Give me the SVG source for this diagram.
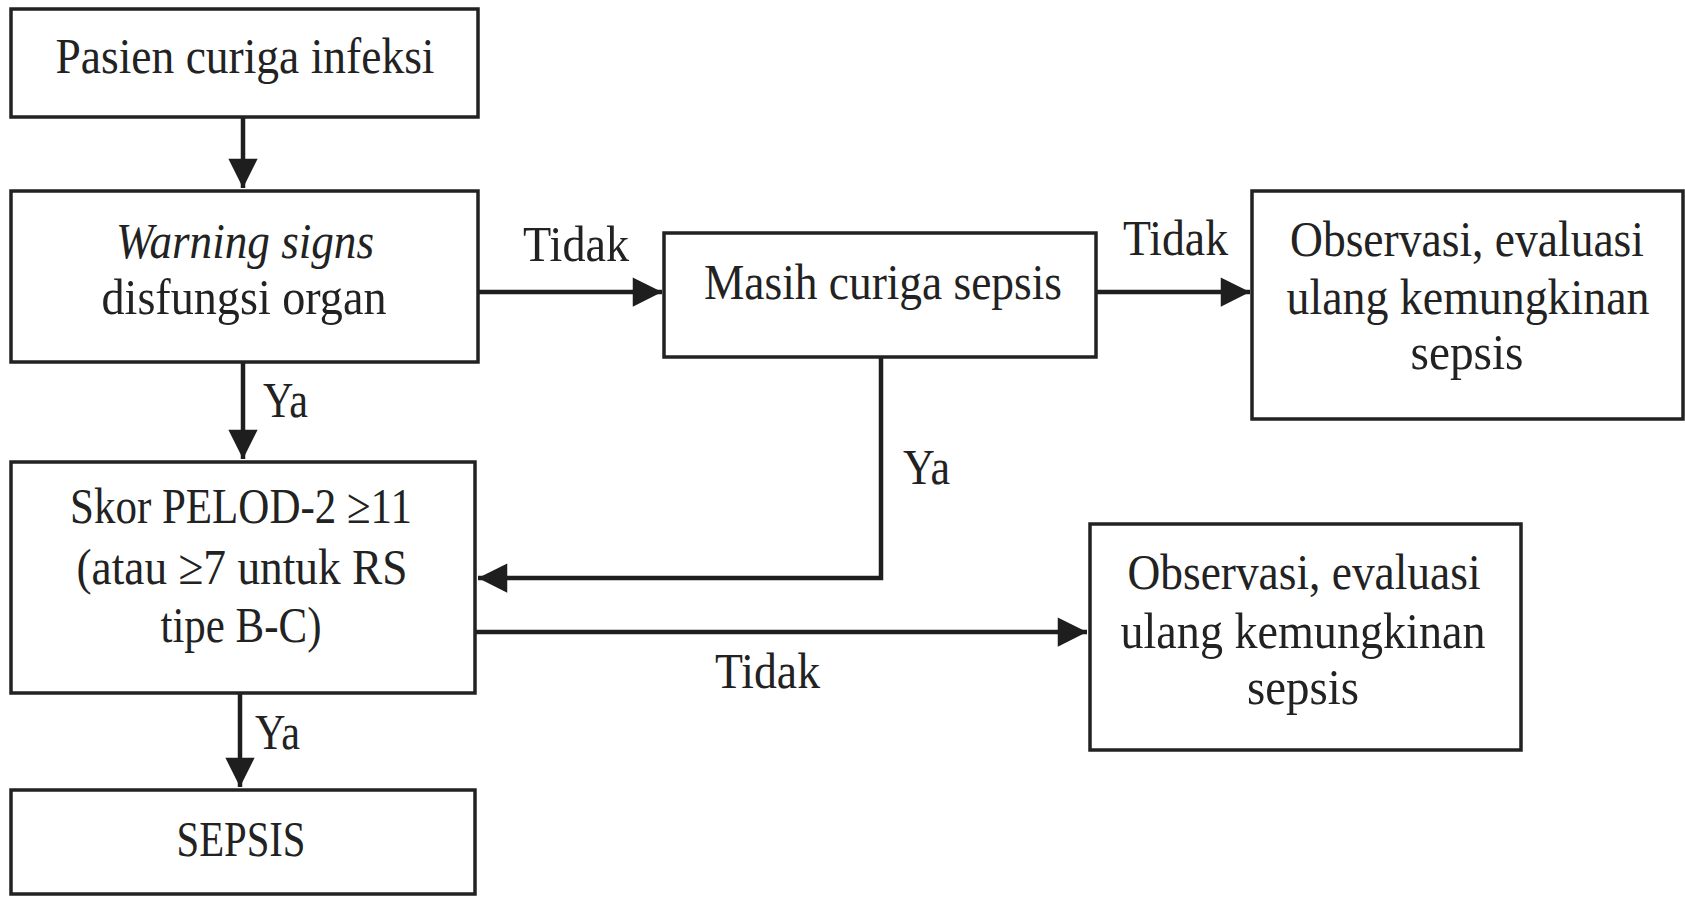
<svg xmlns="http://www.w3.org/2000/svg" width="1685" height="897" viewBox="0 0 1685 897">
<defs>
<marker id="arr" viewBox="0 0 10 10" refX="10" refY="5" markerWidth="7.5" markerHeight="6.5" markerUnits="strokeWidth" orient="auto">
<path d="M0,0 L10,5 L0,10 z" fill="#1e1e1e"/>
</marker>
<style>
.box{fill:#fff;stroke:#222;stroke-width:3.5}
.t{font-family:"Liberation Serif","Times New Roman",serif;font-size:50px;fill:#222;text-anchor:start}
.m{text-anchor:middle}
.i{font-style:italic}
.c{fill:none;stroke:#1e1e1e;stroke-width:4.5}
</style>
</defs>
<rect width="1685" height="897" fill="#fff"/>
<g id="connectors">
<path class="c" d="M243,117 V188" marker-end="url(#arr)"/>
<path class="c" d="M478,292 H662" marker-end="url(#arr)"/>
<path class="c" d="M1096,292 H1250" marker-end="url(#arr)"/>
<path class="c" d="M243,362 V459" marker-end="url(#arr)"/>
<path class="c" d="M881,357 V578 H478" marker-end="url(#arr)"/>
<path class="c" d="M475,632 H1087" marker-end="url(#arr)"/>
<path class="c" d="M240,693 V787" marker-end="url(#arr)"/>
<text class="t" x="523" y="261" textLength="106" lengthAdjust="spacingAndGlyphs">Tidak</text>
<text class="t" x="1123" y="255" textLength="105" lengthAdjust="spacingAndGlyphs">Tidak</text>
<text class="t" x="263" y="417" textLength="45" lengthAdjust="spacingAndGlyphs">Ya</text>
<text class="t" x="903" y="484" textLength="47" lengthAdjust="spacingAndGlyphs">Ya</text>
<text class="t" x="715" y="688" textLength="105" lengthAdjust="spacingAndGlyphs">Tidak</text>
<text class="t" x="255" y="749" textLength="45" lengthAdjust="spacingAndGlyphs">Ya</text>
</g>
<g id="n1">
<rect class="box" x="11" y="9" width="467" height="108"/>
<text class="t m" x="245" y="73" textLength="379" lengthAdjust="spacingAndGlyphs">Pasien curiga infeksi</text>
</g>
<g id="n2">
<rect class="box" x="11" y="191" width="467" height="171"/>
<text class="t i m" x="245" y="258" textLength="258" lengthAdjust="spacingAndGlyphs">Warning signs</text>
<text class="t m" x="244" y="314" textLength="285" lengthAdjust="spacingAndGlyphs">disfungsi organ</text>
</g>
<g id="n3">
<rect class="box" x="664" y="233" width="432" height="124"/>
<text class="t m" x="883" y="299" textLength="358" lengthAdjust="spacingAndGlyphs">Masih curiga sepsis</text>
</g>
<g id="n4">
<rect class="box" x="1252" y="191" width="431" height="228"/>
<text class="t m" x="1467" y="256" textLength="354" lengthAdjust="spacingAndGlyphs">Observasi, evaluasi</text>
<text class="t m" x="1468" y="314" textLength="363" lengthAdjust="spacingAndGlyphs">ulang kemungkinan</text>
<text class="t m" x="1467" y="369" textLength="113" lengthAdjust="spacingAndGlyphs">sepsis</text>
</g>
<g id="n5">
<rect class="box" x="11" y="462" width="464" height="231"/>
<text class="t m" x="241" y="523" textLength="342" lengthAdjust="spacingAndGlyphs">Skor PELOD-2 ≥11</text>
<text class="t m" x="242" y="584" textLength="331" lengthAdjust="spacingAndGlyphs">(atau ≥7 untuk RS</text>
<text class="t m" x="241" y="642" textLength="161" lengthAdjust="spacingAndGlyphs">tipe B-C)</text>
</g>
<g id="n6">
<rect class="box" x="1090" y="524" width="431" height="226"/>
<text class="t m" x="1304" y="589" textLength="353" lengthAdjust="spacingAndGlyphs">Observasi, evaluasi</text>
<text class="t m" x="1303" y="648" textLength="365" lengthAdjust="spacingAndGlyphs">ulang kemungkinan</text>
<text class="t m" x="1303" y="704" textLength="112" lengthAdjust="spacingAndGlyphs">sepsis</text>
</g>
<g id="n7">
<rect class="box" x="11" y="790" width="464" height="104"/>
<text class="t m" x="241" y="856" textLength="129" lengthAdjust="spacingAndGlyphs">SEPSIS</text>
</g>
</svg>
